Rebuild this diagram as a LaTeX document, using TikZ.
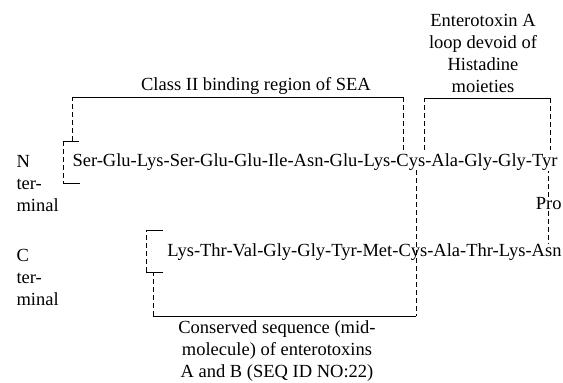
\documentclass[tikz,border=0pt]{standalone}
\usepackage{fontspec}
\setmainfont{Liberation Serif}
\tikzset{
  lbl/.style={inner sep=0pt, font=\fontsize{18.5}{22}\selectfont},
  dsh/.style={dash pattern=on 5pt off 3pt},
}
\begin{document}
\begin{tikzpicture}[x=1pt,y=-1pt,line width=1pt]
\useasboundingbox (0,0) rectangle (563,383);
% labels
\node[lbl] (sea) at (256,86) {Class II binding region of SEA};
\node[lbl, align=center] (loop) at (483,53) {Enterotoxin A\\loop devoid of\\Histadine\\moieties};
\node[lbl, align=left, anchor=west] (nterm) at (16,184) {N\\ter-\\minal};
\node[lbl, align=left, anchor=west] (cterm) at (16,277) {C\\ter-\\minal};
\node[lbl, align=center] (cons) at (277,351) {Conserved sequence (mid-\\molecule) of enterotoxins\\A and B (SEQ ID NO:22)};
% chain
\node[lbl, anchor=west] (upper) at (72,162) {Ser-Glu-Lys-Ser-Glu-Glu-Ile-Asn-Glu-Lys-Cys-Ala-Gly-Gly-Tyr};
\node[lbl, anchor=east] (pro) at (562,204) {Pro};
\node[lbl, anchor=east] (lower) at (562,252) {Lys-Thr-Val-Gly-Gly-Tyr-Met-Cys-Ala-Thr-Lys-Asn};
\draw[dsh] (pro.north) -- (pro.north |- upper.south);
\draw[dsh] (pro.south) -- (pro.south |- lower.north);
% class II bracket
\coordinate (seaL) at (72,97);
\coordinate (seaR) at (403,97);
\draw[dsh] (72,141) -- (seaL);
\draw (seaL) -- (seaR);
\draw[dsh] (seaR) -- (403,150);
\draw (79,141) -- (63,141);
\draw[dsh] (63,141) -- (63,183);
\draw (63,183) -- (80,183);
% loop bracket
\coordinate (loopL) at (424,98);
\coordinate (loopR) at (550,98);
\draw[dsh] (424,150) -- (loopL);
\draw (loopL) -- (loopR);
\draw[dsh] (loopR) -- (550,150);
% conserved bracket
\coordinate (consR) at (416,316);
\coordinate (consL) at (153,316);
\draw[dsh] (416,170) -- (consR);
\draw (consR) -- (consL);
\draw[dsh] (consL) -- (153,272);
\draw (163,272) -- (146,272);
\draw[dsh] (146,272) -- (146,230);
\draw (146,230) -- (163,230);
\end{tikzpicture}
\end{document}
